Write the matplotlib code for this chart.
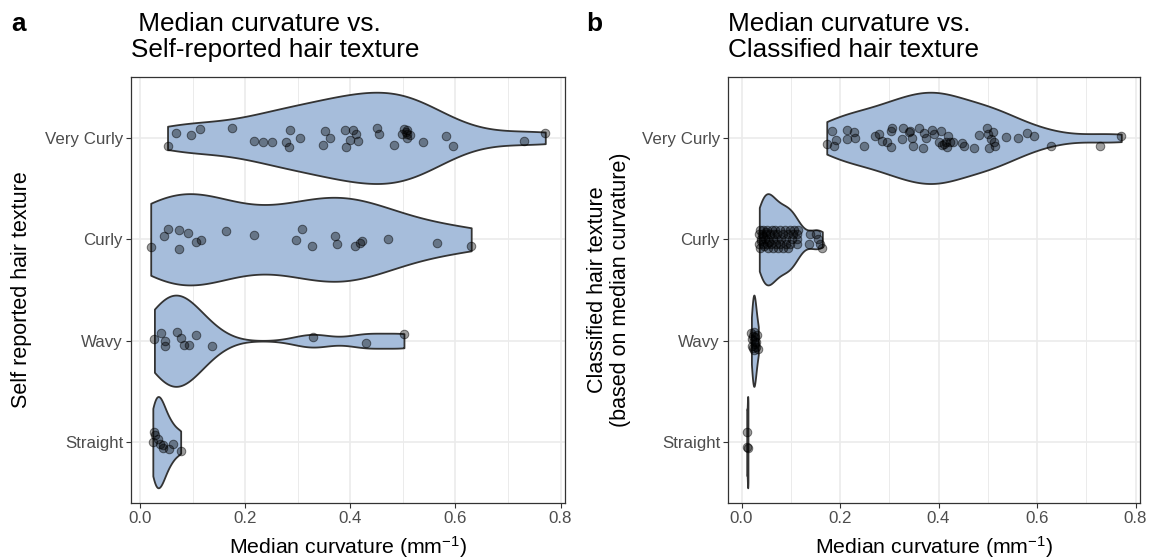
import numpy as np
import matplotlib
matplotlib.use("Agg")
import matplotlib.pyplot as plt

plt.rcParams["font.family"] = ["Liberation Sans", "DejaVu Sans"]
plt.rcParams["mathtext.fontset"] = "custom"
plt.rcParams["mathtext.rm"] = "Liberation Sans"
plt.rcParams["mathtext.it"] = "Liberation Sans:italic"
plt.rcParams["mathtext.bf"] = "Liberation Sans:bold"

textures = ["Straight", "Wavy", "Curly", "Very Curly"]

# --- panel a: self-reported texture, median curvature (mm^-1) ---
a_straight = [0.024, 0.027, 0.029, 0.033, 0.038, 0.043, 0.044, 0.054, 0.062, 0.077]
a_wavy = [0.027, 0.039, 0.048, 0.047, 0.070, 0.077, 0.084, 0.093, 0.106, 0.137,
          0.328, 0.430, 0.502]
a_curly = [0.020, 0.046, 0.053, 0.074, 0.074, 0.091, 0.107, 0.116, 0.164, 0.217,
           0.296, 0.308, 0.327, 0.370, 0.375, 0.408, 0.418, 0.422, 0.472, 0.564,
           0.630]
a_very_curly = [0.052, 0.068, 0.097, 0.114, 0.175, 0.217, 0.233, 0.250, 0.277, 0.286,
                0.283, 0.305, 0.348, 0.352, 0.362, 0.389, 0.392, 0.405, 0.411, 0.400,
                0.415, 0.450, 0.455, 0.484, 0.502, 0.507, 0.498, 0.508, 0.514, 0.507,
                0.505, 0.538, 0.582, 0.596, 0.731, 0.771]

# vertical jitter (category units, + = downwards)
a_straight_jit = [0.0, -0.099, -0.066, -0.033, 0.017, 0.056, 0.033, 0.066, 0.017, 0.083]
a_wavy_jit = [-0.017, -0.073, 0.007, 0.056, -0.089, -0.030, 0.046, 0.046, -0.059, 0.050,
              -0.033, 0.023, -0.066]
a_curly_jit = [0.073, -0.036, -0.099, -0.092, 0.093, -0.059, 0.023, 0.007, -0.082, -0.039,
               0.010, -0.099, 0.063, -0.033, 0.043, 0.066, 0.033, 0.014, -0.003, 0.040,
               0.063]
a_very_curly_jit = [0.076, -0.049, -0.033, -0.089, -0.095, 0.027, 0.043, 0.043, 0.043, -0.082,
                    0.089, 0.004, 0.070, -0.066, 0.0, -0.082, 0.086, -0.082, -0.036, 0.020,
                    0.033, -0.095, -0.039, 0.070, -0.089, -0.079, -0.039, -0.039, -0.033, 0.0,
                    -0.056, 0.043, -0.019, 0.080, 0.027, -0.046]

# --- panel b: classified texture ---
b_straight = [0.0105, 0.0120, 0.0130]
b_wavy = [0.020, 0.021, 0.022, 0.023, 0.024, 0.025, 0.025, 0.026, 0.027, 0.028,
          0.029, 0.030, 0.032, 0.034]
b_curly = [0.037, 0.044, 0.051, 0.061, 0.068, 0.078, 0.089, 0.098, 0.106, 0.115,
           0.036, 0.041, 0.049, 0.058, 0.066, 0.072, 0.085, 0.095, 0.104, 0.113, 0.138, 0.152,
           0.039, 0.047, 0.054, 0.063, 0.071, 0.081, 0.091, 0.102, 0.112, 0.156,
           0.036, 0.044, 0.052, 0.059, 0.070, 0.079, 0.090, 0.098, 0.113, 0.136, 0.159,
           0.037, 0.054, 0.064, 0.075, 0.085, 0.095, 0.164,
           0.040, 0.043, 0.046, 0.050, 0.056]
b_very_curly = [0.173, 0.184, 0.191, 0.188, 0.215, 0.215, 0.228, 0.230, 0.249, 0.271,
                0.280, 0.285, 0.295, 0.304, 0.306, 0.303, 0.325, 0.327, 0.339, 0.343,
                0.347, 0.349, 0.360, 0.368, 0.371, 0.374, 0.387, 0.390, 0.400, 0.405,
                0.407, 0.411, 0.415, 0.420, 0.417, 0.423, 0.429, 0.448, 0.451, 0.471,
                0.482, 0.498, 0.501, 0.503, 0.506, 0.510, 0.513, 0.515, 0.537, 0.562,
                0.580, 0.594, 0.629, 0.728, 0.771]

b_straight_jit = [-0.099, 0.045, 0.055]
b_wavy_jit = [-0.08, 0.05, -0.02, 0.07, -0.05, 0.0, 0.09, -0.09, 0.03, -0.04,
              0.06, 0.01, -0.06, 0.08]
b_curly_jit = [-0.092] * 10 + [-0.052] * 12 + [0.0] * 10 + [0.047] * 11 + [0.089] * 7 \
    + [0.02, -0.03, 0.07, -0.07, 0.03]
b_very_curly_jit = [0.060, -0.066, 0.017, 0.076, -0.079, 0.010, -0.056, 0.004, 0.076, -0.016,
                    -0.039, 0.027, 0.043, 0.093, -0.095, -0.072, 0.014, -0.095, -0.056, -0.072,
                    0.0, 0.076, -0.099, 0.096, -0.046, 0.0, -0.082, -0.039, 0.043, -0.066,
                    0.070, 0.060, 0.043, -0.023, 0.093, 0.037, 0.043, 0.050, 0.076, 0.096,
                    -0.033, -0.099, -0.039, 0.103, 0.010, -0.056, 0.043, 0.076, -0.013, 0.0,
                    -0.046, -0.016, 0.080, 0.080, -0.016]

FILL = "#A6BDDB"
DARK = "#333333"


def nrd0(x):
    # R's default bandwidth (bw.nrd0), as ggplot's violins use
    x = np.asarray(x, dtype=float)
    sd = x.std(ddof=1)
    q75, q25 = np.percentile(x, [75, 25])
    lo = min(sd, (q75 - q25) / 1.34)
    if lo == 0:
        lo = sd if sd > 0 else 1.0
    return 0.9 * lo * len(x) ** -0.2


def bw_factor(kde):
    d = kde.dataset[0]
    return nrd0(d) / d.std(ddof=1)


def draw_panel(ax, groups, jitters):
    pos = np.arange(1, len(groups) + 1)
    parts = ax.violinplot(groups, positions=pos, orientation="horizontal", widths=0.9,
                          showextrema=False, bw_method=bw_factor, points=512)
    for body in parts["bodies"]:
        body.set_facecolor(FILL)
        body.set_edgecolor(DARK)
        body.set_alpha(1)
        body.set_linewidth(1.3)
        body.set_zorder(2)
    for p, vals, jit in zip(pos, groups, jitters):
        ax.scatter(vals, p - np.asarray(jit), s=38, facecolor=(0, 0, 0, 0.38),
                   edgecolor=(0, 0, 0, 0.5), linewidth=0.7, zorder=3)

    allv = np.concatenate([np.asarray(g) for g in groups])
    pad = 0.05 * (allv.max() - allv.min())
    ax.set_xlim(allv.min() - pad, allv.max() + pad)
    ax.set_ylim(0.4, len(groups) + 0.6)
    ax.set_xticks([0.0, 0.2, 0.4, 0.6, 0.8])
    ax.set_xticklabels(["0.0", "0.2", "0.4", "0.6", "0.8"])
    ax.set_xticks([0.1, 0.3, 0.5, 0.7], minor=True)
    ax.set_yticks(pos)
    ax.set_yticklabels(textures)
    ax.set_axisbelow(True)
    ax.grid(which="major", color="#EBEBEB", linewidth=1.2)
    ax.grid(which="minor", axis="x", color="#EBEBEB", linewidth=0.7)
    ax.tick_params(which="major", color=DARK, length=3.5, width=0.8, pad=2.2,
                   labelcolor="#4D4D4D", labelsize=12.2)
    ax.tick_params(which="minor", length=0)
    for s in ax.spines.values():
        s.set_color(DARK)
        s.set_linewidth(0.9)


W, H = 1149, 560
fig = plt.figure(figsize=(W / 100, H / 100), dpi=100)

ax_a = fig.add_axes([131 / W, 1 - 503 / H, (565 - 131) / W, (503 - 77) / H])
ax_b = fig.add_axes([728 / W, 1 - 503 / H, (1140 - 728) / W, (503 - 77) / H])

draw_panel(ax_a, [a_straight, a_wavy, a_curly, a_very_curly],
           [a_straight_jit, a_wavy_jit, a_curly_jit, a_very_curly_jit])
draw_panel(ax_b, [b_straight, b_wavy, b_curly, b_very_curly],
           [b_straight_jit, b_wavy_jit, b_curly_jit, b_very_curly_jit])

xlab = r"Median curvature (mm$^{-1}$)"
fig.text((131 + 565) / 2 / W, 1 - 554 / H, xlab, ha="center", va="baseline", fontsize=15.3)
fig.text((728 + 1140) / 2 / W, 1 - 554 / H, xlab, ha="center", va="baseline", fontsize=15.3)

fig.text(22 / W, 1 - 290 / H, "Self reported hair texture", rotation=90,
         ha="center", va="center", fontsize=15.5)
fig.text(609 / W, 1 - 290 / H, "Classified hair texture\n(based on median curvature)",
         rotation=90, ha="center", va="center", fontsize=15.5, linespacing=1.1,
         multialignment="center")

fig.text(131 / W, 1 - 12 / H, " Median curvature vs.\nSelf-reported hair texture",
         ha="left", va="top", fontsize=18.8, linespacing=1.1)
fig.text(728 / W, 1 - 12 / H, "Median curvature vs.\nClassified hair texture",
         ha="left", va="top", fontsize=18.8, linespacing=1.1)

fig.text(11 / W, 1 - 12 / H, "a", ha="left", va="top", fontsize=18.8, fontweight="bold")
fig.text(586 / W, 1 - 12 / H, "b", ha="left", va="top", fontsize=18.8, fontweight="bold")

fig.savefig("out.png", dpi=100)
